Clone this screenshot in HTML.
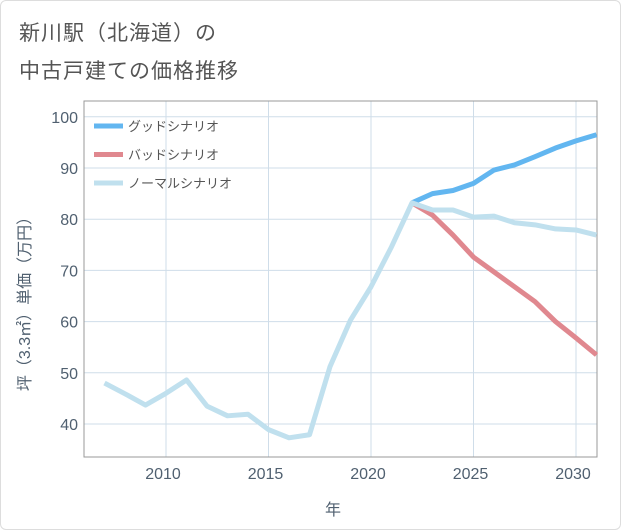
<!DOCTYPE html>
<html><head><meta charset="utf-8"><style>
body{margin:0;background:#fff;font-family:"Liberation Sans","Noto Sans CJK JP",sans-serif;}
#wrap{position:relative;width:619px;height:528px;border:1px solid #ddd;border-radius:6px;overflow:hidden;}
.title{position:absolute;left:18px;font-size:21px;color:#555;letter-spacing:1px;}
</style></head><body>
<div id="wrap">
<div class="title" style="top:16px">新川駅（北海道）の</div>
<div class="title" style="top:54px">中古戸建ての価格推移</div>
<svg id="chart" width="621" height="530" style="position:absolute;left:-1px;top:-1px"></svg>
</div>
<script>
const years=[2007,2008,2009,2010,2011,2012,2013,2014,2015,2016,2017,2018,2019,2020,2021,2022,2023,2024,2025,2026,2027,2028,2029,2030,2031];
const normalVals=[48.0,45.9,43.7,46.0,48.6,43.5,41.6,41.9,38.9,37.3,37.9,51.2,60.3,66.8,74.6,83.2,81.8,81.8,80.4,80.6,79.3,78.9,78.1,77.9,76.9];
const goodYears=[2022,2023,2024,2025,2026,2027,2028,2029,2030,2031];
const goodVals=[83.2,85.0,85.6,87.0,89.6,90.6,92.2,93.9,95.3,96.5];
const badVals=[83.2,80.8,76.9,72.6,69.7,66.8,63.9,60.0,56.8,53.5];
const xTicks=[2010,2015,2020,2025,2030];
const yTicks=[40,50,60,70,80,90,100];
const NS="http://www.w3.org/2000/svg";
const svg=document.getElementById('chart');
const L=84,R=597,T=101,B=457;
const x=y=>166+(y-2010)*20.5;
const yv=v=>424-(v-40)*5.12;
function mk(t,a){const e=document.createElementNS(NS,t);for(const k in a)e.setAttribute(k,a[k]);svg.appendChild(e);return e;}
xTicks.forEach(t=>{
 const g=mk('line',{x1:x(t),x2:x(t),y1:T,y2:B,stroke:'#cfdde9','stroke-width':1});
 
 
 const l=mk('text',{x:x(t)-3,y:479,'text-anchor':'middle','font-size':16,fill:'#506070'});
 l.textContent=t;
 
 
});
yTicks.forEach(t=>{
 const g=mk('line',{x1:L,x2:R,y1:yv(t),y2:yv(t),stroke:'#cfdde9','stroke-width':1});
 
 
 const l=mk('text',{x:78,y:yv(t)+6,'text-anchor':'end','font-size':16,fill:'#506070'});
 l.textContent=t;
 
 
});
const fr=mk('rect',{x:L,y:T,width:R-L,height:B-T,fill:'none',stroke:'#999','stroke-width':1});


function line(xs,vs,c,name){
 const p=mk('polyline',{points:xs.map((yr,i)=>x(yr)+','+yv(vs[i])).join(' '),fill:'none',stroke:c,'stroke-width':5,'stroke-linejoin':'round'});
 
 
}
line(goodYears,badVals,'#e0888f','bad-scenario-line');
line(goodYears,goodVals,'#62b6f0','good-scenario-line');
line(years,normalVals,'#c0e0ee','normal-scenario-line');
const leg=[['グッドシナリオ','#62b6f0'],['バッドシナリオ','#e0888f'],['ノーマルシナリオ','#c0e0ee']];
leg.forEach((d,i)=>{
 const yy=126+i*28.5;
 const s=mk('line',{x1:94,x2:123,y1:yy,y2:yy,stroke:d[1],'stroke-width':5});
 
 
 const t=mk('text',{x:128,y:yy+5,'font-size':13,fill:'#555'});
 t.textContent=d[0];
 
 
});
const xt=mk('text',{x:333,y:515,'text-anchor':'middle','font-size':16,fill:'#506070'});
xt.textContent='年';


const yt=mk('text',{x:0,y:0,'text-anchor':'middle','font-size':16,fill:'#506070',transform:'translate(30,300) rotate(-90)'});
yt.textContent='坪（3.3㎡）単価（万円）';


</script>
</body></html>
